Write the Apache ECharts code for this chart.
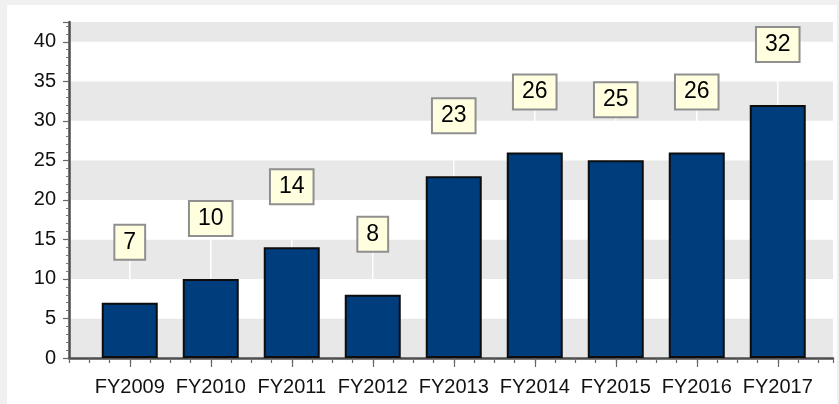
<!DOCTYPE html>
<html>
<head>
<meta charset="utf-8">
<script src="https://cdn.jsdelivr.net/npm/echarts@6/dist/echarts.min.js"></script>
<style>
  html, body { margin: 0; padding: 0; background: #f0f0f0; }
  #panel { position: absolute; left: 7px; top: 5px; width: 830px; height: 399px; background: #ffffff; }
  #chart { position: absolute; left: 0; top: 0; width: 839px; height: 404px; }
</style>
</head>
<body>
<div id="panel"></div>
<div id="chart"></div>
<script>
// Yearly counts per fiscal year
const categories = ['FY2009', 'FY2010', 'FY2011', 'FY2012', 'FY2013', 'FY2014', 'FY2015', 'FY2016', 'FY2017'];
const counts = [7, 10, 14, 8, 23, 26, 25, 26, 32];

const FONT = "'Liberation Sans', Arial, sans-serif";
const AXIS_COLOR = '#4d4d4d';

// Frame grid (bands, axis lines, quarter ticks) and bar grid share the same
// vertical extent; one category is 81px wide in both.
const catWidth = 81;
const frameLeft = 69, frameRight = 833;
const firstCenter = frameLeft + 0.75 * catWidth;
const barLeft = firstCenter - catWidth / 2;
const barRight = barLeft + categories.length * catWidth;
const gridTop = 22, gridBottom = 46;
const yMax = 42.5;

const chart = echarts.init(document.getElementById('chart'), null, { renderer: 'canvas' });
chart.setOption({
  backgroundColor: 'transparent',
  animation: false,
  textStyle: { fontFamily: FONT },
  grid: [
    { left: frameLeft, right: 839 - frameRight, top: gridTop, bottom: gridBottom },
    { left: barLeft, right: 839 - barRight, top: gridTop, bottom: gridBottom }
  ],
  xAxis: [
    {
      gridIndex: 0,
      type: 'value',
      min: -0.75,
      max: -0.75 + (frameRight - frameLeft) / catWidth,
      interval: 0.25,
      axisLine: { show: true, onZero: false, lineStyle: { color: AXIS_COLOR, width: 2.5 } },
      axisTick: { show: true, length: 5, lineStyle: { color: '#666', width: 1.2 } },
      axisLabel: { show: false },
      splitLine: { show: false }
    },
    {
      gridIndex: 1,
      type: 'category',
      data: categories,
      axisLine: { show: false, onZero: false },
      axisTick: { show: true, alignWithLabel: true, interval: 0, length: 9, lineStyle: { color: '#666', width: 1.2 } },
      axisLabel: { interval: 0, fontSize: 20, color: '#111', margin: 19, fontFamily: FONT },
      splitLine: { show: false }
    }
  ],
  yAxis: [
    {
      gridIndex: 0,
      type: 'value',
      min: 0,
      max: yMax,
      interval: 5,
      axisLine: { show: true, onZero: false, lineStyle: { color: AXIS_COLOR, width: 2.5 } },
      axisTick: { show: true, length: 6, lineStyle: { color: '#666', width: 1.2 } },
      minorTick: { show: true, splitNumber: 5, length: 3, lineStyle: { color: '#777', width: 1 } },
      axisLabel: { fontSize: 20, color: '#111', margin: 13, showMaxLabel: false, fontFamily: FONT },
      splitLine: { show: false },
      splitArea: { show: true, areaStyle: { color: ['#e8e8e8', '#ffffff'] } }
    },
    {
      gridIndex: 1,
      type: 'value',
      min: 0,
      max: yMax,
      show: false,
      splitLine: { show: false }
    }
  ],
  series: [
    {
      type: 'bar',
      xAxisIndex: 1,
      yAxisIndex: 1,
      data: counts,
      barWidth: 56,
      itemStyle: { color: '#003d7d', borderColor: '#0d0d0d', borderWidth: 2 },
      label: {
        show: true,
        position: 'top',
        distance: 0,
        fontSize: 23,
        fontFamily: FONT,
        color: '#000',
        backgroundColor: '#ffffe0',
        borderColor: '#8f8f8f',
        borderWidth: 2,
        padding: [5, 8, 5, 8],
        lineHeight: 23
      },
      labelLayout: { dy: -44 },
      labelLine: { show: true, lineStyle: { color: '#ffffff', width: 1.5 } }
    }
  ]
});
</script>
</body>
</html>
